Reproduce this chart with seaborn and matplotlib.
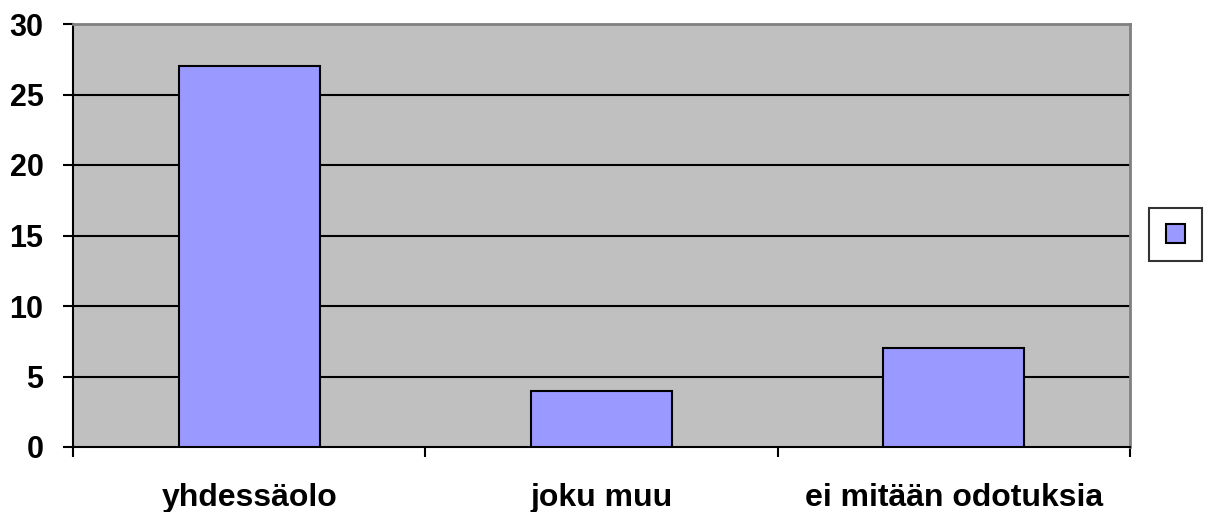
import numpy as np
import pandas as pd
import matplotlib
matplotlib.use("Agg")
import matplotlib.pyplot as plt
import seaborn as sns
from matplotlib.patches import Patch

categories = ["yhdessäolo", "joku muu", "ei mitään odotuksia"]
values = [27, 4, 7]
y_ticks = [0, 5, 10, 15, 20, 25, 30]

BAR_COLOR = "#9999FF"
BG_COLOR = "#C0C0C0"

sns.set_style("white")
plt.rcParams['font.family'] = ['Liberation Sans', 'DejaVu Sans']
plt.rcParams['xtick.bottom'] = True
plt.rcParams['ytick.left'] = True

df = pd.DataFrame({"category": categories, "value": values})

fig = plt.figure(figsize=(12.11, 5.12), dpi=100)
ax = fig.add_axes([73 / 1211, 1 - 447 / 512, (1130 - 73) / 1211, (447 - 24) / 512])
ax.set_facecolor(BG_COLOR)

sns.barplot(data=df, x="category", y="value", color=BAR_COLOR, width=0.4,
            edgecolor="black", linewidth=1.5, saturation=1, ax=ax, zorder=3)

ax.set_ylim(0, 30)
ax.set_xlim(-0.5, len(categories) - 0.5)
ax.set_yticks(y_ticks)
ax.set_yticklabels([str(t) for t in y_ticks], fontsize=22, fontweight="bold", color="black")
for t in y_ticks[1:-1]:
    ax.axhline(t, color="black", lw=1.5, zorder=1)

# category labels centred, ticks on the category boundaries
ax.set_xticks(np.arange(len(categories)))
ax.set_xticklabels(categories, fontsize=23, fontweight="bold", color="black")
ax.tick_params(axis="x", which="major", length=0, pad=26)
ax.set_xticks(np.arange(len(categories) + 1) - 0.5, minor=True)
ax.tick_params(axis="x", which="minor", bottom=True, length=7.2, width=1.5,
               direction="out", color="black")
ax.tick_params(axis="y", left=True, length=7.2, width=1.5, direction="out",
               color="black", pad=14)

ax.set_xlabel("")
ax.set_ylabel("")

for side in ["left", "bottom"]:
    ax.spines[side].set_color("black")
    ax.spines[side].set_linewidth(1.5)
for side in ["top", "right"]:
    ax.spines[side].set_color("#808080")
    ax.spines[side].set_linewidth(2)

handle = Patch(facecolor=BAR_COLOR, edgecolor="black", linewidth=1.5)
leg = fig.legend(handles=[handle], labels=[""], loc="center",
                 bbox_to_anchor=(1175.5 / 1211, 1 - 234.5 / 512),
                 frameon=True, fancybox=False, edgecolor="black",
                 handlelength=0.95, handleheight=1.0, handletextpad=0,
                 borderpad=0.8, fontsize=15)
leg.get_frame().set_linewidth(1.5)

plt.savefig("out.png", dpi=100)
plt.close(fig)
